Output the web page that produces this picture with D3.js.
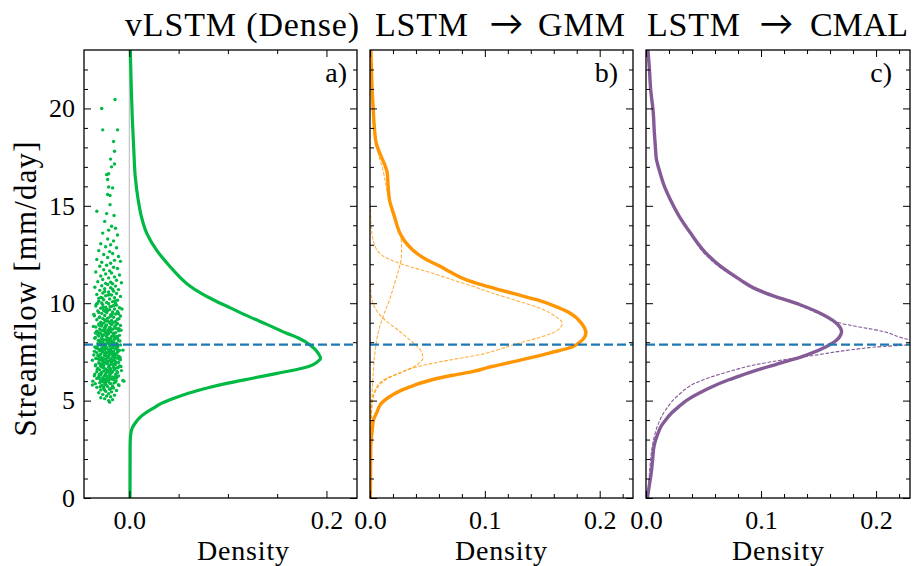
<!DOCTYPE html>
<html>
<head>
<meta charset="utf-8">
<script src="https://cdn.jsdelivr.net/npm/d3@7"></script>
<style>
  body { margin: 0; background: #fff; }
</style>
</head>
<body>
<svg id="chart"></svg>
<script>
// ---- data ----
const yDomain = [0, 23];
const yMajor = [0, 5, 10, 15, 20];
const yMinor = [1,2,3,4,6,7,8,9,11,12,13,14,16,17,18,19,21,22];
const observed = 7.87;   // dashed blue line, mm/day

const titles = ["vLSTM (Dense)", "LSTM \u2192 GMM", "LSTM \u2192 CMAL"];
const letters = ["a)", "b)", "c)"];
const xDomains = [[-0.046, 0.231], [0, 0.229], [0, 0.2295]];
const xMajor = [[0, 0.2], [0, 0.1, 0.2], [0, 0.1, 0.2]];
const xMinor = [
  [0.05, 0.1, 0.15],
  [0.02, 0.04, 0.06, 0.08, 0.12, 0.14, 0.16, 0.18, 0.22],
  [0.02, 0.04, 0.06, 0.08, 0.12, 0.14, 0.16, 0.18, 0.22]
];

// [streamflow, density]
const denseDensity = [[0,0.0007],[2.5,0.0008],[3.0,0.001],[3.3,0.0015],[3.6,0.003],[3.85,0.006],[4.1,0.010],
  [4.35,0.016],[4.6,0.024],[4.87,0.033],[5.1,0.044],[5.38,0.060],[5.6,0.075],[5.9,0.100],[6.15,0.125],
  [6.4,0.150],[6.6,0.170],[6.75,0.182],[7.0,0.191],[7.18,0.194],[7.4,0.192],[7.65,0.188],[7.87,0.183],
  [8.2,0.172],[8.47,0.159],[8.9,0.14],[9.3,0.122],[9.75,0.103],[10.18,0.085],[10.5,0.073],[10.9,0.061],
  [11.4,0.05],[11.9,0.041],[12.7,0.028],[13.6,0.0176],[14.5,0.012],[15.3,0.009],[16.5,0.006],[17.9,0.0045],
  [19.5,0.003],[21,0.002],[23,0.001]];

const gmmMixture = [[0,0.0003],[2.5,0.0006],[3.0,0.001],[3.5,0.002],[4.0,0.003],[4.4,0.006],[4.87,0.010],
  [5.2,0.017],[5.55,0.028],[5.8,0.039],[6.07,0.054],[6.3,0.072],[6.5,0.09],[6.75,0.106],[7.0,0.125],
  [7.26,0.144],[7.44,0.156],[7.78,0.177],[7.97,0.182],[8.12,0.185],[8.47,0.188],[8.98,0.184],[9.5,0.174],
  [9.8,0.163],[10.18,0.145],[10.45,0.128],[10.7,0.112],[10.95,0.097],[11.2,0.084],[11.6,0.070],[11.9,0.061],
  [12.24,0.049],[12.75,0.037],[13.2,0.030],[13.6,0.026],[14.0,0.0235],[14.5,0.021],[15.3,0.017],[15.8,0.016],
  [16.3,0.0155],[16.7,0.015],[17.0,0.0135],[17.5,0.010],[18.2,0.0055],[19.1,0.0037],[20.0,0.0028],
  [20.8,0.002],[22.5,0.001],[23,0.0008]];
const gmmCompA = [[3.5,0.0003],[4.2,0.001],[5.04,0.0024],[5.5,0.005],[5.9,0.0098],[6.32,0.0215],[6.75,0.042],
  [7.1,0.071],[7.35,0.095],[7.6,0.111],[7.87,0.125],[8.2,0.145],[8.47,0.159],[8.7,0.165],[8.98,0.1675],
  [9.3,0.162],[9.67,0.151],[10.18,0.125],[10.55,0.105],[10.9,0.088],[11.12,0.076],[11.55,0.054],
  [11.98,0.029],[12.4,0.012],[13.0,0.004],[14.0,0.001],[15,0.0003]];
const gmmCompB = [[3.8,0.0002],[4.5,0.0007],[5.1,0.002],[5.6,0.005],[6.07,0.012],[6.41,0.026],[6.84,0.041],
  [7.18,0.046],[7.5,0.045],[7.78,0.041],[8.1,0.035],[8.55,0.026],[9.15,0.0128],[9.6,0.006],[10.0,0.0026],
  [10.5,0.0008],[11.2,0.0002]];
const gmmCompC = [[0,0.0002],[2.5,0.0006],[4.2,0.0012],[5.9,0.0023],[7.6,0.0046],[8.47,0.007],[9.3,0.0113],
  [10.2,0.0171],[11.0,0.0214],[11.9,0.0258],[12.2,0.027],[12.75,0.0275],[13.3,0.027],[14.0,0.024],
  [14.5,0.0205],[15.3,0.0165],[16.2,0.0135],[16.9,0.011],[17.5,0.008],[18.2,0.0055],[19.1,0.0032],
  [20,0.002],[21,0.0013],[22,0.0008],[23,0.0005]];

const cmalMixture = [[0,0.0012],[0.5,0.0025],[1.27,0.0045],[2.0,0.0058],[2.64,0.0069],[3.0,0.0085],
  [3.33,0.0105],[3.67,0.013],[4.0,0.017],[4.35,0.022],[4.69,0.0285],[5.0,0.035],[5.38,0.046],[5.7,0.057],
  [6.07,0.072],[6.32,0.084],[6.5,0.093],[6.84,0.112],[7.1,0.127],[7.35,0.140],[7.78,0.157],[8.12,0.166],
  [8.35,0.169],[8.55,0.170],[8.89,0.167],[9.41,0.154],[9.92,0.134],[10.52,0.104],[10.8,0.093],[11.2,0.082],
  [11.9,0.0647],[12.6,0.0517],[13.6,0.0387],[14.5,0.0285],[15.3,0.0213],[16.0,0.016],[16.9,0.0112],
  [17.4,0.009],[17.9,0.0083],[18.8,0.0072],[19.8,0.0063],[21,0.004],[22,0.003],[23,0.0017]];
const cmalOther = [[0,0.0017],[1.27,0.003],[2.64,0.0055],[3.67,0.0098],[4.52,0.017],[5.3,0.0285],[5.9,0.043],
  [6.49,0.072],[6.84,0.095],[7.1,0.120],[7.35,0.149],[7.6,0.177],[7.78,0.206],[7.87,0.23],[8.0,0.242],
  [8.12,0.230],[8.55,0.206],[8.98,0.169],[9.41,0.152],[9.92,0.132],[10.52,0.102],[10.8,0.092],[11.2,0.081],
  [11.9,0.063],[12.6,0.050],[13.6,0.0385],[14.5,0.0285],[15.3,0.0213],[16.0,0.016],[16.9,0.0112],
  [17.9,0.0083],[19.8,0.0063],[21,0.004],[23,0.0017]];

// model samples shown left of zero in panel a: [x offset, streamflow]
const samples = [
  [-.028,20.0],[-.0145,20.46],[-.027,18.9],[-.012,18.9],[-.016,18.3],[-.015,17.8],[-.019,17.4],[-.015,17.15],
  [-.018,17.0],[-.023,16.6],[-.021,16.65],[-.022,16.35],[-.021,15.97],[-.017,15.92],[-.022,15.58],[-.0196,15.53],
  [-.0196,15.06],[-.033,14.72],[-.023,14.6],[-.0155,14.5],[-.025,14.2],[-.018,13.95],[-.021,13.75],[-.014,13.85],
  [-.027,13.6],[-.012,13.5],[-.022,13.3],[-.016,13.2],[-.029,13.05],[-.019,13.0],
  [-.024,12.9],[-.013,12.85],[-.031,12.7],[-.02,12.65],[-.017,12.55],[-.026,12.5],[-.011,12.4],[-.022,12.35],
  [-.033,12.25],[-.015,12.2],[-.028,12.1],[-.019,12.05],[-.009,12.15],
  [-.023,11.95],[-.03,11.9],[-.016,11.85],[-.012,11.78],[-.026,11.72],[-.02,11.66],[-.034,11.6],[-.018,11.55],
  [-.024,11.5],[-.01,11.45],[-.029,11.4],[-.015,11.35],[-.021,11.3],[-.027,11.22],[-.013,11.18],[-.032,11.1],
  [-.019,11.08],[-.024,11.02],[-.008,11.05],[-.017,11.0],
  [-.022,10.96],[-.028,10.9],[-.014,10.88],[-.035,10.82],[-.019,10.8],[-.025,10.74],[-.011,10.7],[-.03,10.66],
  [-.016,10.62],[-.021,10.58],[-.027,10.52],[-.013,10.5],[-.033,10.45],[-.018,10.42],[-.024,10.38],[-.009,10.35],
  [-.029,10.3],[-.015,10.28],[-.02,10.22],[-.026,10.18],[-.012,10.15],[-.031,10.1],[-.017,10.08],[-.023,10.04],
  [-.028,10.01],[-.014,10.0],[-.02,10.44],[-.025,10.6],[-.017,10.72],[-.031,10.25],
  [-.021,9.97],[-.027,9.93],[-.013,9.9],[-.034,9.86],[-.018,9.84],[-.024,9.8],[-.01,9.77],[-.029,9.74],
  [-.015,9.7],[-.02,9.67],[-.026,9.63],[-.032,9.6],[-.012,9.58],[-.017,9.55],[-.023,9.52],[-.028,9.48],
  [-.014,9.45],[-.036,9.42],[-.019,9.4],[-.025,9.37],[-.009,9.34],[-.03,9.3],[-.016,9.28],[-.021,9.25],
  [-.027,9.21],[-.012,9.18],[-.033,9.15],[-.018,9.12],[-.024,9.09],[-.014,9.06],[-.029,9.03],[-.02,9.01],
  [-.022,9.62],[-.016,9.88],[-.031,9.52],[-.025,9.14],[-.011,9.46],[-.027,9.78],[-.019,9.33],[-.023,9.71],
  [-.026,8.98],[-.012,8.96],[-.031,8.93],[-.018,8.91],[-.023,8.88],[-.009,8.86],[-.028,8.83],[-.015,8.8],
  [-.034,8.78],[-.02,8.76],[-.025,8.73],[-.013,8.7],[-.03,8.68],[-.017,8.66],[-.022,8.63],[-.027,8.6],
  [-.011,8.58],[-.033,8.56],[-.019,8.53],[-.024,8.5],[-.014,8.48],[-.029,8.45],[-.021,8.43],[-.016,8.4],
  [-.026,8.37],[-.01,8.35],[-.031,8.32],[-.018,8.3],[-.023,8.27],[-.013,8.25],[-.028,8.22],[-.035,8.2],
  [-.02,8.18],[-.015,8.15],[-.025,8.12],[-.03,8.1],[-.011,8.08],[-.022,8.05],[-.017,8.03],[-.027,8.01],
  [-.019,8.95],[-.024,8.84],[-.014,8.72],[-.029,8.62],[-.021,8.52],[-.016,8.44],[-.032,8.38],[-.023,8.34],
  [-.012,8.2],[-.027,8.14],[-.019,8.07],[-.025,8.55],[-.02,8.67],[-.028,8.92],[-.015,8.28],
  [-.021,7.98],[-.027,7.96],[-.013,7.94],[-.032,7.92],[-.018,7.9],[-.024,7.88],[-.009,7.86],[-.029,7.84],
  [-.015,7.82],[-.02,7.8],[-.026,7.78],[-.035,7.76],[-.012,7.74],[-.017,7.72],[-.023,7.7],[-.028,7.68],
  [-.014,7.66],[-.031,7.64],[-.019,7.62],[-.025,7.6],[-.01,7.58],[-.03,7.56],[-.016,7.54],[-.021,7.52],
  [-.027,7.5],[-.012,7.48],[-.033,7.46],[-.018,7.44],[-.024,7.42],[-.014,7.4],[-.029,7.38],[-.02,7.36],
  [-.036,7.34],[-.015,7.32],[-.025,7.3],[-.011,7.28],[-.031,7.26],[-.017,7.24],[-.022,7.22],[-.028,7.2],
  [-.013,7.18],[-.034,7.16],[-.019,7.14],[-.024,7.12],[-.009,7.1],[-.03,7.08],[-.016,7.06],[-.021,7.04],
  [-.027,7.02],[-.014,7.0],[-.022,7.95],[-.016,7.85],[-.026,7.73],[-.019,7.65],[-.028,7.57],[-.023,7.47],
  [-.017,7.39],[-.032,7.31],[-.021,7.25],[-.026,7.15],[-.018,7.09],[-.023,7.03],[-.03,7.9],[-.012,7.61],
  [-.025,7.35],[-.02,7.45],[-.015,7.19],[-.029,7.11],[-.024,7.79],[-.019,7.55],
  [-.025,6.98],[-.011,6.96],[-.031,6.94],[-.018,6.92],[-.023,6.9],[-.028,6.88],[-.014,6.86],[-.034,6.84],
  [-.02,6.82],[-.026,6.8],[-.01,6.78],[-.029,6.76],[-.016,6.74],[-.021,6.72],[-.027,6.7],[-.013,6.68],
  [-.032,6.66],[-.019,6.64],[-.024,6.62],[-.015,6.6],[-.03,6.58],[-.02,6.56],[-.008,6.54],[-.026,6.52],
  [-.017,6.5],[-.033,6.48],[-.022,6.46],[-.012,6.44],[-.028,6.42],[-.019,6.4],[-.024,6.38],[-.035,6.36],
  [-.014,6.34],[-.029,6.32],[-.02,6.3],[-.025,6.28],[-.011,6.26],[-.031,6.24],[-.017,6.22],[-.022,6.2],
  [-.027,6.18],[-.013,6.16],[-.033,6.14],[-.019,6.12],[-.024,6.1],[-.016,6.08],[-.029,6.06],[-.021,6.04],
  [-.026,6.02],[-.037,6.0],[-.022,6.95],[-.017,6.85],[-.027,6.77],[-.02,6.67],[-.024,6.57],[-.018,6.47],
  [-.03,6.35],[-.023,6.25],[-.015,6.19],[-.026,6.09],
  [-.023,5.98],[-.014,5.95],[-.03,5.92],[-.019,5.88],[-.025,5.85],[-.011,5.82],[-.028,5.78],[-.017,5.75],
  [-.022,5.72],[-.033,5.68],[-.016,5.65],[-.026,5.62],[-.02,5.58],[-.029,5.55],[-.013,5.52],[-.024,5.48],
  [-.018,5.45],[-.031,5.4],[-.021,5.36],[-.027,5.32],[-.015,5.28],[-.023,5.24],[-.019,5.2],[-.029,5.15],
  [-.025,5.1],[-.017,5.05],[-.021,5.0],[-.02,4.92],[-.026,5.7],[-.02,5.9],
  [-.0335,9.95],[-.0075,9.7],[-.0245,9.58],[-.0175,9.43],[-.0305,9.27],[-.0105,9.2],[-.0215,9.07],[-.0285,8.97],
  [-.0135,8.9],[-.0365,8.81],[-.0195,8.74],[-.0255,8.65],[-.0085,8.61],[-.0315,8.51],[-.0165,8.46],[-.0225,8.41],
  [-.0275,8.33],[-.0125,8.29],[-.0345,8.24],[-.0185,8.16],[-.0235,8.11],[-.0095,8.06],[-.0295,8.02],[-.0155,7.97],
  [-.0205,7.93],[-.0265,7.87],[-.0115,7.83],[-.0325,7.77],[-.0175,7.71],[-.0225,7.67],[-.0285,7.63],[-.0065,7.59],
  [-.0355,7.53],[-.0195,7.49],[-.0245,7.43],[-.0135,7.37],[-.0305,7.33],[-.0165,7.27],[-.0215,7.21],[-.0275,7.17],
  [-.0105,7.13],[-.0375,7.07],[-.0185,7.01],[-.0235,6.97],[-.0145,6.91],[-.0295,6.87],[-.0205,6.81],[-.0085,6.75],
  [-.0265,6.71],[-.0155,6.65],[-.0325,6.61],[-.0225,6.55],[-.0125,6.49],[-.0285,6.43],[-.0195,6.37],[-.0245,6.31],
  [-.0355,6.27],[-.0135,6.21],[-.0305,6.15],[-.0175,6.11],[-.0215,6.05],[-.0065,6.03],[-.0275,5.97],[-.0155,5.91],
  [-.0345,5.87],[-.0235,5.81],[-.0105,5.77],[-.0295,5.71],[-.0185,5.63],[-.0255,5.57],[-.0375,5.8],[-.0055,6.0],
  [-.0215,10.42],[-.0275,10.27],[-.0145,10.12],[-.0325,9.99],[-.0195,9.82],[-.0255,9.66],[-.0115,9.51],[-.0355,9.36],
  [-.0225,9.22],[-.0165,9.0],[-.0305,8.87],[-.0245,8.77],[-.0105,8.69],[-.0195,8.57],[-.0345,8.47],[-.0265,8.36],
  [-.0145,8.26],[-.0215,8.19],[-.0315,8.09],[-.0175,7.99],[-.0245,7.91],[-.0125,7.81],[-.0335,7.69],[-.0205,7.58],
  [-.0275,7.51],[-.0155,7.41],[-.0225,7.29],[-.0095,7.23],[-.0315,7.13],[-.0185,7.05],[-.0255,6.93],[-.0345,6.79],
  [-.0115,6.69],[-.0235,6.59],[-.0175,6.45],[-.0305,6.33],[-.0205,6.23],[-.0265,6.13],[-.0135,6.01],[-.0245,5.93]
];

// ---- layout ----
const W = 913, H = 566, plotTop = 50, plotBottom = 498;
const serif = '"Liberation Serif"';
// title pieces: x position and width of each word; the arrow is centred on its x
const frames = [
  { left: 84,  right: 357, title: [[125, 234]], labelX: 243, letterX: 347 },
  { left: 370, right: 633, title: [[375, 93], [506.5], [538, 87]], labelX: 501, letterX: 618 },
  { left: 646, right: 910, title: [[647, 93], [776.5], [810, 98]], labelX: 778, letterX: 892 }
];
const green = "#00B945", orange = "#FF9500", purple = "#845B97", blue = "#1f77b4";

const svg = d3.select("#chart").attr("width", W).attr("height", H);
const y = d3.scaleLinear().domain(yDomain).range([plotBottom, plotTop]);

function densityLine(x) {
  return d3.line().x(d => x(d[1])).y(d => y(d[0])).curve(d3.curveMonotoneY);
}

frames.forEach((f, i) => {
  const x = d3.scaleLinear().domain(xDomains[i]).range([f.left, f.right]);
  const g = svg.append("g").attr("class", "panel");

  g.append("clipPath").attr("id", "clip" + i)
    .append("rect").attr("x", f.left).attr("y", plotTop)
    .attr("width", f.right - f.left).attr("height", plotBottom - plotTop);
  const plot = g.append("g").attr("clip-path", `url(#clip${i})`);
  const line = densityLine(x);

  if (i === 0) {
    plot.append("line")
      .attr("x1", x(0)).attr("x2", x(0)).attr("y1", plotTop).attr("y2", plotBottom)
      .attr("stroke", "#c4c4c4").attr("stroke-width", 1.2);
    plot.selectAll("circle").data(samples).enter().append("circle")
      .attr("cx", d => x(d[0])).attr("cy", d => y(d[1])).attr("r", 1.7)
      .attr("fill", green);
    plot.append("path").datum(denseDensity).attr("d", line)
      .attr("fill", "none").attr("stroke", green).attr("stroke-width", 3.2);
  } else if (i === 1) {
    [gmmCompA, gmmCompB, gmmCompC].forEach(c => {
      plot.append("path").datum(c).attr("d", line)
        .attr("fill", "none").attr("stroke", orange).attr("stroke-opacity", 0.75)
        .attr("stroke-width", 1.1).attr("stroke-dasharray", "3.7,1.6");
    });
    plot.append("path").datum(gmmMixture).attr("d", line)
      .attr("fill", "none").attr("stroke", orange).attr("stroke-width", 3.4);
  } else {
    plot.append("path").datum(cmalOther).attr("d", line)
      .attr("fill", "none").attr("stroke", purple)
      .attr("stroke-width", 1.1).attr("stroke-dasharray", "3.7,1.6");
    plot.append("path").datum(cmalMixture).attr("d", line)
      .attr("fill", "none").attr("stroke", purple).attr("stroke-width", 3.4);
  }

  // observed streamflow
  plot.append("line")
    .attr("x1", f.left).attr("x2", f.right).attr("y1", y(observed)).attr("y2", y(observed))
    .attr("stroke", blue).attr("stroke-width", 2.3).attr("stroke-dasharray", "9,4");

  // ticks, all pointing inward
  const fmt = d3.format(".1f");
  g.append("g").attr("transform", `translate(0,${plotBottom})`)
    .call(d3.axisBottom(x).tickValues(xMajor[i]).tickSize(-7).tickPadding(13).tickFormat(fmt));
  g.append("g").attr("transform", `translate(0,${plotBottom})`)
    .call(d3.axisBottom(x).tickValues(xMinor[i]).tickSize(-4).tickFormat(""));
  g.append("g").attr("transform", `translate(0,${plotTop})`)
    .call(d3.axisTop(x).tickValues(xMajor[i]).tickSize(-7).tickFormat(""));
  g.append("g").attr("transform", `translate(0,${plotTop})`)
    .call(d3.axisTop(x).tickValues(xMinor[i]).tickSize(-4).tickFormat(""));
  g.append("g").attr("transform", `translate(${f.left},0)`)
    .call(d3.axisLeft(y).tickValues(yMajor).tickSize(-7).tickPadding(9)
      .tickFormat(i === 0 ? d3.format("d") : ""));
  g.append("g").attr("transform", `translate(${f.left},0)`)
    .call(d3.axisLeft(y).tickValues(yMinor).tickSize(-4).tickFormat(""));
  g.append("g").attr("transform", `translate(${f.right},0)`)
    .call(d3.axisRight(y).tickValues(yMajor).tickSize(-7).tickFormat(""));
  g.append("g").attr("transform", `translate(${f.right},0)`)
    .call(d3.axisRight(y).tickValues(yMinor).tickSize(-4).tickFormat(""));

  g.selectAll(".domain").remove();
  g.selectAll(".tick line").attr("stroke", "#000").attr("stroke-width", 1);
  g.selectAll(".tick text").attr("fill", "#000")
    .style("font-family", serif).style("font-size", "26px");

  g.append("rect").attr("x", f.left).attr("y", plotTop)
    .attr("width", f.right - f.left).attr("height", plotBottom - plotTop)
    .attr("fill", "none").attr("stroke", "#000").attr("stroke-width", 1.3);

  // title pieces; the arrow comes from Lato, which has a long thin arrow
  const parts = titles[i].split(" \u2192 ").flatMap((p, k) => k ? ["\u2192", p] : [p]);
  parts.forEach((part, k) => {
    const t = g.append("text").attr("x", f.title[k][0]).text(part);
    if (part === "\u2192") {
      t.attr("y", 35).attr("text-anchor", "middle")
        .style("font-family", "Lato").style("font-size", "34px");
    } else {
      t.attr("y", 36).style("font-family", serif).style("font-size", "34px")
        .attr("textLength", f.title[k][1]).attr("lengthAdjust", "spacing");
    }
  });

  g.append("text").attr("x", f.letterX).attr("y", 82)
    .attr("text-anchor", "end")
    .style("font-family", serif).style("font-size", "28px")
    .text(letters[i]);

  g.append("text").attr("x", f.labelX).attr("y", 560)
    .attr("text-anchor", "middle")
    .style("font-family", serif).style("font-size", "28px")
    .attr("textLength", 92).attr("lengthAdjust", "spacing")
    .text("Density");
});

svg.append("text")
  .attr("transform", "translate(36,289) rotate(-90)")
  .attr("text-anchor", "middle")
  .style("font-family", serif).style("font-size", "31px")
  .attr("textLength", 295).attr("lengthAdjust", "spacing")
  .text("Streamflow [mm/day]");
</script>
</body>
</html>
